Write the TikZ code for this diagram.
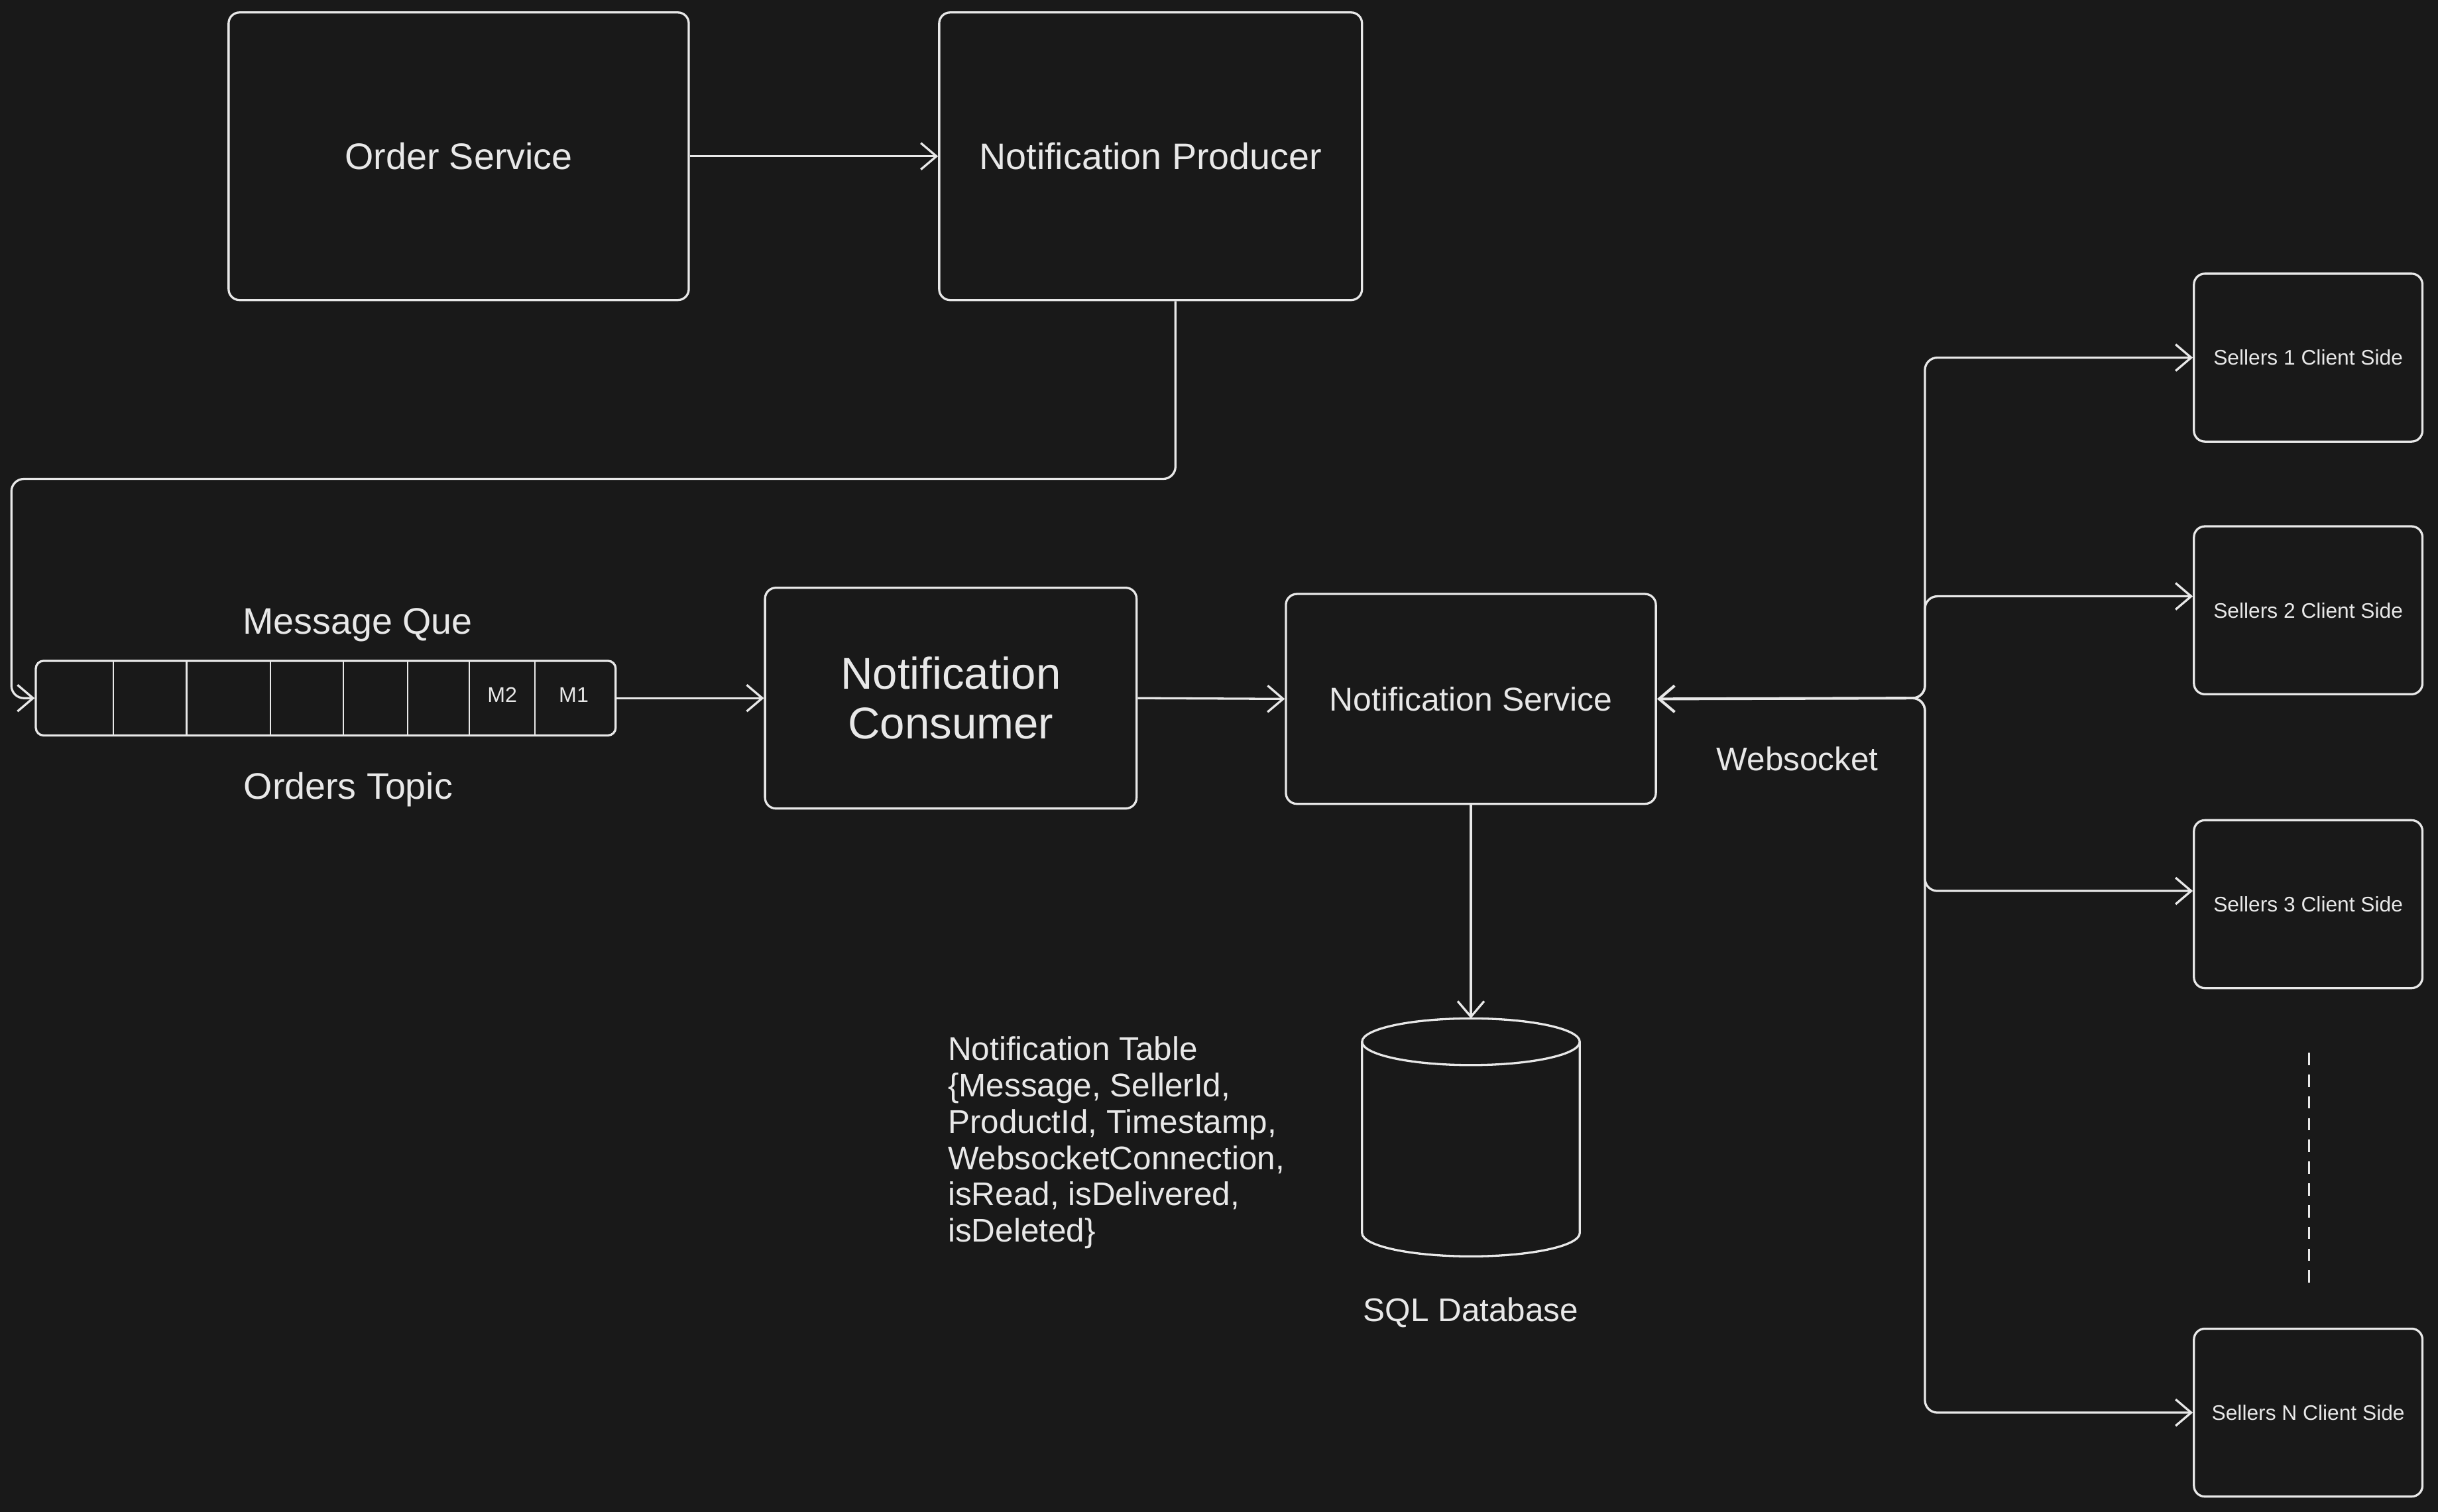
\documentclass[tikz,border=0pt]{standalone}
\usepackage{fontspec}
\setmainfont{Liberation Sans}
\usetikzlibrary{arrows.meta, positioning}
\definecolor{bgdark}{HTML}{191919}
\definecolor{ink}{HTML}{E8E8E8}

\begin{document}
\begin{tikzpicture}[x=0.02cm, y=-0.02cm, line width=0.8pt,
    box/.style={draw=ink, rounded corners=0.14cm, text=ink, align=center, inner sep=0pt},
    conn/.style={draw=ink, -{Straight Barb[length=0.2cm, width=0.34cm]}, rounded corners=0.16cm},
    lbl/.style={text=ink, inner sep=0pt},
    seller/.style={box, minimum width=2.94cm, minimum height=2.16cm, font=\fontsize{7.7}{9}\selectfont}]
    \fill[bgdark] (0,0) rectangle (1568,972.4);

    % top row
    \node[box, minimum width=5.92cm, minimum height=3.7cm, font=\fontsize{13.5}{16}\selectfont] (order) at (295,100.5) {Order Service};
    \node[box, minimum width=5.44cm, minimum height=3.7cm, font=\fontsize{13.5}{16}\selectfont] (prod) at (740,100.5) {Notification Producer};

    % message queue
    \node[box, minimum width=7.46cm, minimum height=0.96cm, rounded corners=0.1cm] (que) at (209.5,449) {};
    \foreach \d in {73,120,174,221,262,302,344}
        \draw[ink, line width=0.5pt] (\d,425) -- (\d,473);
    \node[lbl, font=\fontsize{7.8}{9}\selectfont] (m2) at (323,447) {M2};
    \node[lbl, font=\fontsize{7.8}{9}\selectfont] (m1) at (369,447) {M1};
    \node[lbl, font=\fontsize{13.5}{16}\selectfont] (quetitle) at (230,402) {Message Que};
    \node[lbl, font=\fontsize{13.5}{16}\selectfont] (topic) at (224,508) {Orders Topic};

    \node[box, minimum width=4.78cm, minimum height=2.84cm, font=\fontsize{16.3}{18.1}\selectfont] (cons) at (611.5,449) {Notification\\Consumer};
    \node[box, minimum width=4.76cm, minimum height=2.7cm, font=\fontsize{12.1}{14}\selectfont] (svc) at (946,449.5) {Notification Service};

    % database
    \draw[ink] (946,670) ellipse [x radius=70, y radius=15];
    \draw[ink] (876,670) -- (876,793) arc[start angle=180, end angle=0, x radius=70, y radius=15] -- (1016,670);
    \coordinate (db) at (946,655);
    \node[lbl, font=\fontsize{12}{14}\selectfont] (dbname) at (946,844) {SQL Database};
    \node[lbl, anchor=north west, align=left, font=\fontsize{12}{13.3}\selectfont] (tbl) at (609,666)
        {Notification Table\\\{Message, SellerId,\\ProductId, Timestamp,\\WebsocketConnection,\\isRead, isDelivered,\\isDeleted\}};

    % sellers
    \foreach \n/\y in {1/230, 2/392.5, 3/581.5, N/908.5}
        \node[seller] (s\n) at (1484.5,\y) {Sellers \n\ Client Side};
    \draw[ink, dash pattern=on 0.16cm off 0.12cm] (1485,677) -- (1485,825);
    \node[lbl, font=\fontsize{12}{14}\selectfont] (wsname) at (1156,488) {Websocket};

    % connectors
    \draw[conn] (order.east) -- (prod.west);
    \draw[conn] ([xshift=0.32cm]prod.south) |- ([xshift=-0.3cm, yshift=2.82cm]que.west) |- (que.west);
    \draw[conn] (que.east) -- (cons.west);
    \draw[conn] (cons.east) -- (svc.west);
    \draw[conn] (svc.south) -- (db);
    \coordinate (ws) at (1226,449);
    \draw[conn, line width=1pt] (ws) -- (svc.east);
    \foreach \n/\dy in {1/0, 2/0.18, 3/0.17, N/0}
        \draw[conn] (ws) -- ++(12,0) |- ([yshift=\dy cm]s\n.west);
\end{tikzpicture}
\end{document}
